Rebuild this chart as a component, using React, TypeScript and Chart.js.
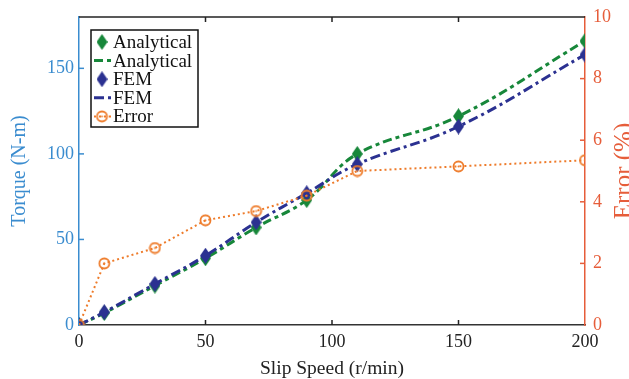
import React, { useEffect, useRef } from "react";
import { Chart, registerables } from "chart.js";

Chart.register(...registerables);

const slipSpeed = [0, 10, 30, 50, 70, 90, 110, 150, 200];
const analyticalTorque = [0, 7, 23, 39, 57, 73, 100, 122, 166];
const femTorque = [0, 7.5, 24, 40.5, 60, 77, 94, 116, 158];
const errorPct = [0, 2.0, 2.5, 3.4, 3.7, 4.2, 5.0, 5.15, 5.35];

const torqueTicks = [0, 50, 100, 150];
const errorTicks = [0, 2, 4, 6, 8, 10];
const speedTicks = [0, 50, 100, 150, 200];

const GREEN = "#17873a";
const NAVY = "#2b3191";
const ORANGE = "#ee7b2a";
const LEFT_C = "#3a8ccf";
const RIGHT_C = "#e65d3a";
const FONT = "'Liberation Serif', 'Times New Roman', serif";

function diamond(color: string) {
  const c = document.createElement("canvas");
  c.width = 11;
  c.height = 16;
  const g = c.getContext("2d")!;
  g.fillStyle = color;
  g.beginPath();
  g.moveTo(5.5, 0);
  g.lineTo(11, 8);
  g.lineTo(5.5, 16);
  g.lineTo(0, 8);
  g.closePath();
  g.fill();
  return c;
}

function ring(color: string) {
  const c = document.createElement("canvas");
  c.width = 13;
  c.height = 13;
  const g = c.getContext("2d")!;
  g.strokeStyle = color;
  g.lineWidth = 1.8;
  g.beginPath();
  g.arc(6.5, 6.5, 5, 0, Math.PI * 2);
  g.stroke();
  g.fillStyle = color;
  g.beginPath();
  g.arc(6.5, 6.5, 1, 0, Math.PI * 2);
  g.fill();
  return c;
}

const pts = (ys: number[]) => slipSpeed.map((x, i) => ({ x, y: ys[i] }));

export default function App() {
  const ref = useRef<HTMLCanvasElement>(null);
  useEffect(() => {
    document.body.style.margin = "0";
    const dG = diamond(GREEN);
    const dB = diamond(NAVY);
    const rO = ring(ORANGE);

    const inward = {
      id: "inward",
      afterDraw(chart: any) {
        const { ctx, chartArea: a, scales } = chart;
        ctx.save();
        // top border
        ctx.strokeStyle = "#222";
        ctx.lineWidth = 1.5;
        ctx.beginPath();
        ctx.moveTo(a.left, a.top);
        ctx.lineTo(a.right, a.top);
        ctx.stroke();
        const L = 5;
        speedTicks.forEach((v) => {
          if (v === speedTicks[0] || v === speedTicks[speedTicks.length - 1]) return;
          const x = scales.x.getPixelForValue(v);
          ctx.beginPath();
          ctx.moveTo(x, a.bottom);
          ctx.lineTo(x, a.bottom - L);
          ctx.moveTo(x, a.top);
          ctx.lineTo(x, a.top + L);
          ctx.stroke();
        });
        ctx.strokeStyle = LEFT_C;
        torqueTicks.forEach((v) => {
          if (v === 0) return;
          const y = scales.y.getPixelForValue(v);
          ctx.beginPath();
          ctx.moveTo(a.left, y);
          ctx.lineTo(a.left + L, y);
          ctx.stroke();
        });
        ctx.strokeStyle = RIGHT_C;
        errorTicks.forEach((v) => {
          if (v === 0 || v === 10) return;
          const y = scales.y1.getPixelForValue(v);
          ctx.beginPath();
          ctx.moveTo(a.right, y);
          ctx.lineTo(a.right - L, y);
          ctx.stroke();
        });

        // right axis title (reads bottom-to-top, partly cut by the edge)
        ctx.save();
        ctx.translate(631, (a.top + a.bottom) / 2);
        ctx.rotate(-Math.PI / 2);
        ctx.font = `25px ${FONT}`;
        ctx.fillStyle = RIGHT_C;
        ctx.textAlign = "center";
        ctx.textBaseline = "alphabetic";
        ctx.fillText("Error (%)", 0, 0);
        ctx.restore();

        // legend box
        const bx = 91, by = 30, bw = 107, bh = 97;
        ctx.fillStyle = "#fff";
        ctx.fillRect(bx, by, bw, bh);
        ctx.strokeStyle = "#111";
        ctx.lineWidth = 1.5;
        ctx.strokeRect(bx, by, bw, bh);
        const ds = chart.data.datasets;
        const order = [1, 0, 3, 2, 4];
        ctx.font = `19px ${FONT}`;
        ctx.textBaseline = "middle";
        order.forEach((di, i) => {
          const d = ds[di];
          const y = by + 12 + i * 18.6;
          const cx = 102;
          if (d.showLine !== false) {
            ctx.save();
            ctx.strokeStyle = d.borderColor;
            ctx.lineWidth = d.borderWidth;
            ctx.setLineDash(d.borderDash || []);
            ctx.beginPath();
            ctx.moveTo(94, y);
            ctx.lineTo(111, y);
            ctx.stroke();
            ctx.restore();
          }
          if (d.pointStyle && d.pointRadius > 0) {
            const img = d.pointStyle as HTMLCanvasElement;
            ctx.drawImage(img, cx - img.width / 2, y - img.height / 2);
          }
          ctx.fillStyle = "#111";
          ctx.fillText(d.label, 113, y + 1);
        });
        ctx.restore();
      },
    };

    const chart = new Chart(ref.current!, {
      type: "line",
      data: {
        datasets: [
          {
            label: "Analytical",
            data: pts(analyticalTorque),
            yAxisID: "y",
            borderColor: GREEN,
            borderWidth: 3,
            borderDash: [9, 4, 4, 4],
            pointRadius: 0,
            tension: 0.4,
            fill: false,
            order: 5,
          },
          {
            label: "Analytical",
            data: pts(analyticalTorque),
            yAxisID: "y",
            showLine: false,
            pointStyle: dG,
            pointRadius: 6,
            borderColor: GREEN,
            backgroundColor: GREEN,
            order: 4,
          },
          {
            label: "FEM",
            data: pts(femTorque),
            yAxisID: "y",
            borderColor: NAVY,
            borderWidth: 3,
            borderDash: [10, 4, 3, 4],
            pointRadius: 0,
            tension: 0.4,
            fill: false,
            order: 3,
          },
          {
            label: "FEM",
            data: pts(femTorque),
            yAxisID: "y",
            showLine: false,
            pointStyle: dB,
            pointRadius: 6,
            borderColor: NAVY,
            backgroundColor: NAVY,
            order: 2,
          },
          {
            label: "Error",
            data: pts(errorPct),
            yAxisID: "y1",
            borderColor: ORANGE,
            borderWidth: 2,
            borderDash: [2, 3],
            pointStyle: rO,
            pointRadius: 6,
            tension: 0,
            fill: false,
            order: 1,
          },
        ] as any,
      },
      options: {
        animation: false,
        responsive: false,
        events: [],
        layout: { padding: { top: 17, left: 0, right: 0, bottom: 0 } },
        plugins: { legend: { display: false }, tooltip: { enabled: false } },
        scales: {
          x: {
            type: "linear",
            min: 0,
            max: 200,
            afterBuildTicks: (s: any) => {
              s.ticks = speedTicks.map((v) => ({ value: v }));
            },
            afterFit: (s: any) => {
              s.height = 54;
            },
            grid: { display: false },
            border: { display: true, color: "#333", width: 1.5 },
            ticks: { color: "#222", font: { family: FONT, size: 18 }, padding: -2, maxRotation: 0 },
            title: {
              display: true,
              text: "Slip Speed (r/min)",
              color: "#222",
              font: { family: FONT, size: 19.5 },
              padding: { top: 0, bottom: -2 },
            },
          },
          y: {
            type: "linear",
            position: "left",
            min: 0,
            max: 180,
            afterBuildTicks: (s: any) => {
              s.ticks = torqueTicks.map((v) => ({ value: v }));
            },
            afterFit: (s: any) => {
              s.width = 79;
            },
            grid: { display: false },
            border: { display: true, color: LEFT_C, width: 1.5 },
            ticks: { color: LEFT_C, font: { family: FONT, size: 18 }, padding: -3 },
            title: {
              display: true,
              text: "Torque (N-m)",
              color: LEFT_C,
              font: { family: FONT, size: 20 },
              padding: { top: 8, bottom: 0 },
            },
          },
          y1: {
            type: "linear",
            position: "right",
            min: 0,
            max: 10,
            afterBuildTicks: (s: any) => {
              s.ticks = errorTicks.map((v) => ({ value: v }));
            },
            afterFit: (s: any) => {
              s.width = 44;
            },
            grid: { display: false },
            border: { display: true, color: RIGHT_C, width: 1.5 },
            ticks: { color: RIGHT_C, font: { family: FONT, size: 18 }, padding: 0 },
            title: { display: false },
          },
        },
      } as any,
      plugins: [inward],
    });
    return () => chart.destroy();
  }, []);
  return (
    <div style={{ width: 629, height: 379 }}>
      <canvas ref={ref} width={629} height={379} />
    </div>
  );
}
